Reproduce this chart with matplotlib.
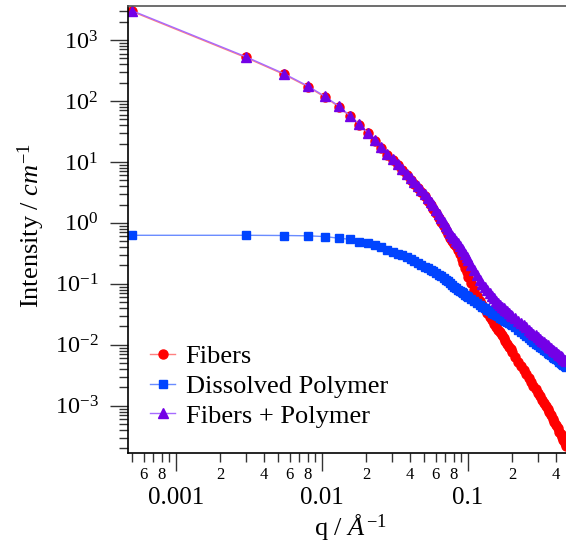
import numpy as np
import matplotlib
matplotlib.use("Agg")
import matplotlib.pyplot as plt
from matplotlib.ticker import FixedLocator, FixedFormatter, LogLocator, NullFormatter

# scattering vector q (1/Angstrom)
q = [0.0005, 0.003, 0.0055, 0.008, 0.0105, 0.013, 0.0155, 0.018, 0.0205, 0.023,
     0.0255, 0.028, 0.0305, 0.033, 0.0355, 0.038, 0.0405, 0.043, 0.0455, 0.048,
     0.0505, 0.053, 0.0555, 0.058, 0.0605, 0.063, 0.0655, 0.068, 0.0705, 0.073,
     0.0755, 0.078, 0.0805, 0.083, 0.0855, 0.088, 0.0905, 0.093, 0.0955, 0.098,
     0.1005,
     0.1055, 0.1105, 0.1155, 0.1205, 0.1255, 0.1305, 0.1355, 0.1405, 0.1455, 0.1505,
     0.1555, 0.1605, 0.1655, 0.1705, 0.1755, 0.1805, 0.1855, 0.1905, 0.1955, 0.2005,
     0.2105, 0.2205, 0.2305, 0.2405, 0.2505, 0.2605, 0.2705, 0.2805, 0.2905, 0.3005,
     0.3105, 0.3205, 0.3305, 0.3405, 0.3505, 0.3605, 0.3705, 0.3805, 0.3905, 0.4005,
     0.4105, 0.4205, 0.4305, 0.4405, 0.4505, 0.4605, 0.4705]

# intensities (1/cm)
fibers = [2940, 517, 272, 171, 115, 80.3, 55.9, 40.6, 29.3, 22.0,
          16.8, 13.1, 10.6, 8.8, 7.24, 6.08, 5.13, 4.35, 3.70, 3.17,
          2.72, 2.31, 2.00, 1.70, 1.43, 1.22, 1.04, 0.886, 0.768, 0.667,
          0.574, 0.508, 0.459, 0.410, 0.359, 0.303, 0.256, 0.216, 0.182, 0.154,
          0.131,
          0.1017, 0.0802, 0.0639, 0.0527, 0.0448, 0.0382, 0.0329, 0.0286, 0.0252, 0.0223,
          0.0199, 0.01776, 0.01597, 0.01426, 0.01288, 0.01163, 0.01042, 0.00934, 0.00840, 0.00759,
          0.00621, 0.00516, 0.00441, 0.00380, 0.00328, 0.00285, 0.00247, 0.00213, 0.00186, 0.00162,
          0.00142, 0.00124, 0.00110, 0.000976, 0.000871, 0.000778, 0.000697, 0.000613, 0.000539, 0.000478,
          0.000427, 0.000378, 0.000338, 0.000304, 0.000271, 0.000246, 0.000219]

polymer = [0.626, 0.626, 0.621, 0.614, 0.596, 0.561, 0.538, 0.495, 0.464, 0.434,
           0.399, 0.363, 0.336, 0.312, 0.294, 0.271, 0.251, 0.2326, 0.2183, 0.2039,
           0.1919, 0.1813, 0.1719, 0.1624, 0.1524, 0.1418, 0.1330, 0.1247, 0.1174, 0.1097,
           0.1025, 0.0957, 0.0891, 0.0845, 0.0802, 0.0766, 0.0729, 0.0697, 0.0666, 0.0639,
           0.0613,
           0.0564, 0.0523, 0.0485, 0.0451, 0.0422, 0.0396, 0.0374, 0.0355, 0.0338, 0.0321,
           0.0307, 0.0292, 0.0278, 0.0265, 0.0253, 0.0243, 0.0234, 0.0225, 0.0217, 0.0209,
           0.0194, 0.0178, 0.0164, 0.0151, 0.01394, 0.01293, 0.01203, 0.01124, 0.01050, 0.00985,
           0.00927, 0.00873, 0.00825, 0.00782, 0.00742, 0.00706, 0.00672, 0.00640, 0.00610, 0.00582,
           0.00557, 0.00532, 0.00510, 0.00490, 0.00470, 0.00452, 0.00432]

mixture = [3030, 533, 280, 176, 118.5, 82.8, 57.6, 41.9, 30.2, 22.7,
           17.3, 13.5, 10.97, 9.08, 7.58, 6.42, 5.45, 4.69, 4.03, 3.49,
           3.02, 2.59, 2.24, 1.93, 1.63, 1.40, 1.20, 1.03, 0.903, 0.794,
           0.693, 0.621, 0.557, 0.505, 0.468, 0.421, 0.377, 0.341, 0.308, 0.279,
           0.250,
           0.203, 0.1675, 0.1397, 0.117, 0.101, 0.0874, 0.0778, 0.0703, 0.0639, 0.0579,
           0.0533, 0.0489, 0.0451, 0.0422, 0.0397, 0.0372, 0.0352, 0.0332, 0.0314, 0.0299,
           0.0273, 0.0249, 0.0228, 0.0210, 0.0193, 0.0178, 0.0165, 0.01532, 0.01432, 0.01333,
           0.01254, 0.01176, 0.01103, 0.01038, 0.00981, 0.00927, 0.00880, 0.00831, 0.00788, 0.00750,
           0.00714, 0.00680, 0.00648, 0.00619, 0.00591, 0.00567, 0.00540]

x_major = [0.001, 0.01, 0.1]
x_major_labels = ["0.001", "0.01", "0.1"]
y_exponents = [-3, -2, -1, 0, 1, 2, 3]

plt.rcParams["font.family"] = "Liberation Serif"
plt.rcParams["mathtext.fontset"] = "custom"
plt.rcParams["mathtext.rm"] = "Liberation Serif"
plt.rcParams["mathtext.it"] = "Liberation Serif:italic"

fig = plt.figure(figsize=(5.66, 5.46), dpi=100)
ax = fig.add_axes([0.2253, 0.1698, 0.7747, 0.8198])

ax.plot(q, fibers, color="#ff8080", lw=1, marker="o", ms=6.5,
        mfc="#ff0000", mec="#ff0000", label="Fibers")
ax.plot(q, polymer, color="#6a8cff", lw=1, marker="s", ms=5.8,
        mfc="#0044ff", mec="#0044ff", label="Dissolved Polymer")
ax.plot(q, mixture, color="#a66bff", lw=1, marker="^", ms=7,
        mfc="#7300e6", mec="#7300e6", label="Fibers + Polymer")

ax.set_xscale("log")
ax.set_yscale("log")
ax.set_xlim(4.655e-4, 0.469)
ax.set_ylim(1.66e-4, 3661)

# x axis: decades labelled large, 2/4/6/8 labelled small
ax.xaxis.set_major_locator(FixedLocator(x_major))
ax.xaxis.set_major_formatter(FixedFormatter(x_major_labels))
minor_pos = [m * 10.0 ** e for e in (-4, -3, -2, -1) for m in range(2, 10)]
minor_lab = [str(m) if m in (2, 4, 6, 8) else "" for e in (-4, -3, -2, -1) for m in range(2, 10)]
ax.xaxis.set_minor_locator(FixedLocator(minor_pos))
ax.xaxis.set_minor_formatter(FixedFormatter(minor_lab))

# y axis: powers of ten
ax.yaxis.set_major_locator(FixedLocator([10.0 ** e for e in y_exponents]))
ax.yaxis.set_major_formatter(FixedFormatter([r"$\mathregular{10^{%d}}$" % e for e in y_exponents]))
ax.yaxis.set_minor_locator(LogLocator(base=10, subs=np.arange(2, 10), numticks=50))
ax.yaxis.set_minor_formatter(NullFormatter())

ax.tick_params(which="both", direction="out", color="#333333", width=1,
               top=False, right=False)
ax.tick_params(axis="x", which="major", length=13, pad=11, labelsize=18)
ax.tick_params(axis="x", which="minor", length=6.8, pad=3, labelsize=12)
ax.tick_params(axis="y", which="major", length=13, pad=8, labelsize=17.5)
ax.tick_params(axis="y", which="minor", length=6.8)

ax.spines["right"].set_visible(False)
ax.spines["top"].set_color("#555555")
for s in ("left", "bottom", "top"):
    ax.spines[s].set_linewidth(1.2)

ax.legend(loc="upper left", bbox_to_anchor=(0.0513, 0.242), frameon=False,
          fontsize=19, handlelength=0.95, handletextpad=0.4, labelspacing=0.23,
          borderpad=0, borderaxespad=0, numpoints=1)

fig.text(350 / 566, 1 - 528 / 546, r"q / $\mathit{Å}^{\mathit{-1}}$",
         ha="center", va="center", fontsize=19)
fig.text(31 / 566, 1 - 225 / 546, r"Intensity / $\mathit{cm}^{\mathit{-1}}$",
         rotation=90, ha="center", va="center", fontsize=19)

fig.savefig("out.png", dpi=100)
